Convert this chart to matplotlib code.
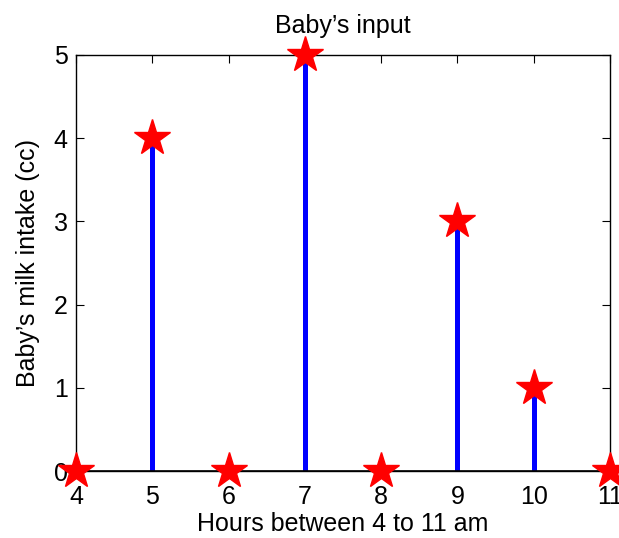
import matplotlib
matplotlib.use('Agg')
from matplotlib import pyplot as plt

# Data
hours = [4, 5, 6, 7, 8, 9, 10, 11]
intake = [0, 4, 0, 5, 0, 3, 1, 0]

plt.rcParams['font.family'] = ['Liberation Sans', 'DejaVu Sans']

fig = plt.figure(figsize=(6.19, 5.38), dpi=100)
ax = fig.add_axes([0.1228, 0.1245, 0.8627, 0.7733])

# Stem lines and star markers
ax.vlines(hours, 0, intake, colors='#0000ff', linewidth=3.6, zorder=2)
ax.plot(hours, intake, linestyle='none', marker='*', markersize=27,
        color='#ff0000', markeredgecolor='#ff0000', clip_on=False, zorder=4)
ax.axhline(0, color='black', linewidth=1.2, zorder=3)

ax.set_xlim(4, 11)
ax.set_ylim(0, 5)
ax.set_xticks(hours)
ax.set_yticks(range(6))
ax.tick_params(direction='in', top=True, right=True, labelsize=18, length=6)
ax.tick_params(axis='x', pad=10)
ax.tick_params(axis='y', pad=6)
for s in ax.spines.values():
    s.set_linewidth(1.0)

ax.set_title("Baby\u2019s input", fontsize=18, pad=16)
ax.set_xlabel('Hours between 4 to 11 am', fontsize=18, labelpad=2)
ax.set_ylabel('Baby\u2019s milk intake (cc)', fontsize=18, labelpad=10)

plt.savefig('out.png', dpi=100)
